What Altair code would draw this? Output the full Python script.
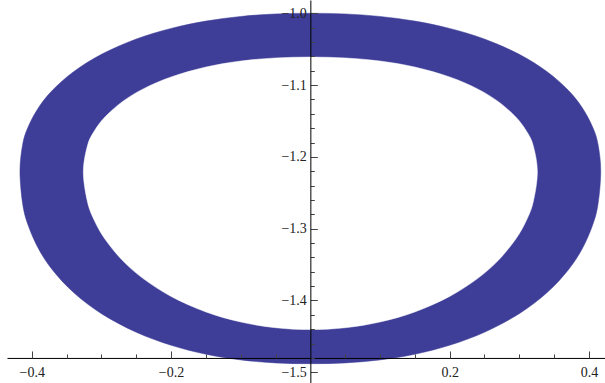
import altair as alt
import pandas as pd

BLUE = "#3e3e98"
FONT = "Liberation Serif"

# Outer boundary of the ring, listed in order around the curve (clockwise from the top)
OUTER_X = [0.0, 0.05, 0.1, 0.15, 0.2, 0.25, 0.3, 0.34, 0.37, 0.39, 0.405, 0.413, 0.417,
           0.413, 0.405, 0.39, 0.37, 0.34, 0.3, 0.25, 0.2, 0.15, 0.1, 0.05,
           0.0, -0.05, -0.1, -0.15, -0.2, -0.25, -0.3, -0.34, -0.37, -0.39, -0.405,
           -0.413, -0.417, -0.413, -0.405, -0.39, -0.37, -0.34, -0.3, -0.25, -0.2,
           -0.15, -0.1, -0.05]
OUTER_Y = [-1.0, -1.0009, -1.0044, -1.0109, -1.0211, -1.0359, -1.0572, -1.0814, -1.1069,
           -1.1309, -1.1577, -1.182, -1.22,
           -1.2663, -1.2959, -1.3286, -1.3578, -1.3889, -1.4183, -1.4442, -1.4623,
           -1.4748, -1.4827, -1.4869,
           -1.488, -1.4869, -1.4827, -1.4748, -1.4623, -1.4442, -1.4183, -1.3889,
           -1.3578, -1.3286, -1.2959, -1.2663, -1.22,
           -1.182, -1.1577, -1.1309, -1.1069, -1.0814, -1.0572, -1.0359, -1.0211,
           -1.0109, -1.0044, -1.0009]

# Inner boundary (the hole), same ordering
INNER_X = [0.0, 0.05, 0.1, 0.15, 0.2, 0.24, 0.27, 0.295, 0.31, 0.32, 0.326,
           0.32, 0.31, 0.295, 0.27, 0.24, 0.2, 0.15, 0.1, 0.05,
           0.0, -0.05, -0.1, -0.15, -0.2, -0.24, -0.27, -0.295, -0.31, -0.32, -0.326,
           -0.32, -0.31, -0.295, -0.27, -0.24, -0.2, -0.15, -0.1, -0.05]
INNER_Y = [-1.061, -1.0622, -1.0665, -1.0749, -1.0887, -1.1053, -1.1231, -1.1445, -1.1636,
           -1.184, -1.221,
           -1.2629, -1.2889, -1.3144, -1.344, -1.3695, -1.3943, -1.4159, -1.4299, -1.4379,
           -1.4405, -1.4379, -1.4299, -1.4159, -1.3943, -1.3695, -1.344, -1.3144, -1.2889,
           -1.2629, -1.221,
           -1.184, -1.1636, -1.1445, -1.1231, -1.1053, -1.0887, -1.0749, -1.0665, -1.0622]

# Axis ticks and labels
X_LABELS = [-0.4, -0.2, 0.2, 0.4]
X_TICKS = [-0.4, -0.35, -0.3, -0.25, -0.2, -0.15, -0.1, -0.05,
           0.05, 0.1, 0.15, 0.2, 0.25, 0.3, 0.35, 0.4]
Y_LABELS = [-1.0, -1.1, -1.2, -1.3, -1.4, -1.5]
Y_TICKS = [-1.5, -1.48, -1.46, -1.44, -1.42, -1.4, -1.38, -1.36, -1.34, -1.32,
           -1.3, -1.28, -1.26, -1.24, -1.22, -1.2, -1.18, -1.16, -1.14, -1.12,
           -1.1, -1.08, -1.06, -1.04, -1.02, -1.0]

X_DOMAIN = [-0.4356, 0.4231]
Y_DOMAIN = [-1.5149, -0.9815]
X_AXIS_AT = -1.48   # y value where the horizontal axis crosses
Y_AXIS_AT = 0.0     # x value where the vertical axis crosses

W, H = 598, 383
LEFT_PAD = 7

outer_df = pd.DataFrame({"i": range(len(OUTER_X)), "x": OUTER_X, "y": OUTER_Y})
inner_df = pd.DataFrame({"i": range(len(INNER_X)), "x": INNER_X, "y": INNER_Y})

# pixel positions of the crossing axes inside the plot area
x_axis_py = (Y_DOMAIN[1] - X_AXIS_AT) / (Y_DOMAIN[1] - Y_DOMAIN[0]) * H
y_axis_px = (Y_AXIS_AT - X_DOMAIN[0]) / (X_DOMAIN[1] - X_DOMAIN[0]) * W

xs = alt.Scale(domain=X_DOMAIN, nice=False, zero=False)
ys = alt.Scale(domain=Y_DOMAIN, nice=False, zero=False)

TICK_COLOR = "#444444"
LABEL_COLOR = "#222222"

x_label_axis = alt.Axis(
    orient="bottom", offset=-(H - x_axis_py), values=X_LABELS, format=".1f",
    ticks=False, domain=True, domainColor="black", domainWidth=1, grid=False,
    labelFont=FONT, labelFontSize=14, labelColor=LABEL_COLOR, labelPadding=8,
    title=None, zindex=1,
)
x_tick_axis = alt.Axis(
    orient="top", offset=-x_axis_py, values=X_TICKS, labels=False, domain=False,
    grid=False, ticks=True, tickColor=TICK_COLOR, tickWidth=1,
    tickSize={"condition": {"test": "abs(datum.value * 5 - round(datum.value * 5)) < 0.000001",
                            "value": 7}, "value": 4},
    title=None, zindex=1,
)
y_label_axis = alt.Axis(
    orient="left", offset=-y_axis_px, values=Y_LABELS, format=".1f",
    ticks=False, domain=False, grid=False,
    labelFont=FONT, labelFontSize=14, labelColor=LABEL_COLOR, labelPadding=4,
    title=None, zindex=1,
)
y_tick_axis = alt.Axis(
    orient="right", offset=-(W - y_axis_px), values=Y_TICKS, labels=False,
    domain=True, domainColor="black", domainWidth=1, grid=False, ticks=True,
    tickColor=TICK_COLOR, tickWidth=1,
    tickSize={"condition": {"test": "abs(datum.value * 10 - round(datum.value * 10)) < 0.000001",
                            "value": 7}, "value": 4},
    title=None, zindex=1,
)

# closed, filled outlines: outer curve in blue, hole in white on top
outer = alt.Chart(outer_df).mark_line(
    interpolate="cardinal-closed", fill=BLUE, stroke=BLUE, strokeWidth=0.5
).encode(
    x=alt.X("x:Q", scale=xs, axis=x_label_axis),
    y=alt.Y("y:Q", scale=ys, axis=y_label_axis),
    order=alt.Order("i:Q"),
)
inner = alt.Chart(inner_df).mark_line(
    interpolate="cardinal-closed", fill="white", stroke="white", strokeWidth=0.5
).encode(
    x=alt.X("x:Q", scale=xs, axis=x_tick_axis),
    y=alt.Y("y:Q", scale=ys, axis=y_tick_axis),
    order=alt.Order("i:Q"),
)

chart = (
    alt.layer(outer, inner)
    .resolve_axis(x="independent", y="independent")
    .properties(
        width=W, height=H,
        padding={"left": LEFT_PAD, "top": 0, "right": 0, "bottom": 0},
        autosize=alt.AutoSizeParams(type="none"),
        background="white",
    )
    .configure_view(stroke=None)
)

chart.save("out.html", embed_options={"renderer": "svg", "actions": False})
